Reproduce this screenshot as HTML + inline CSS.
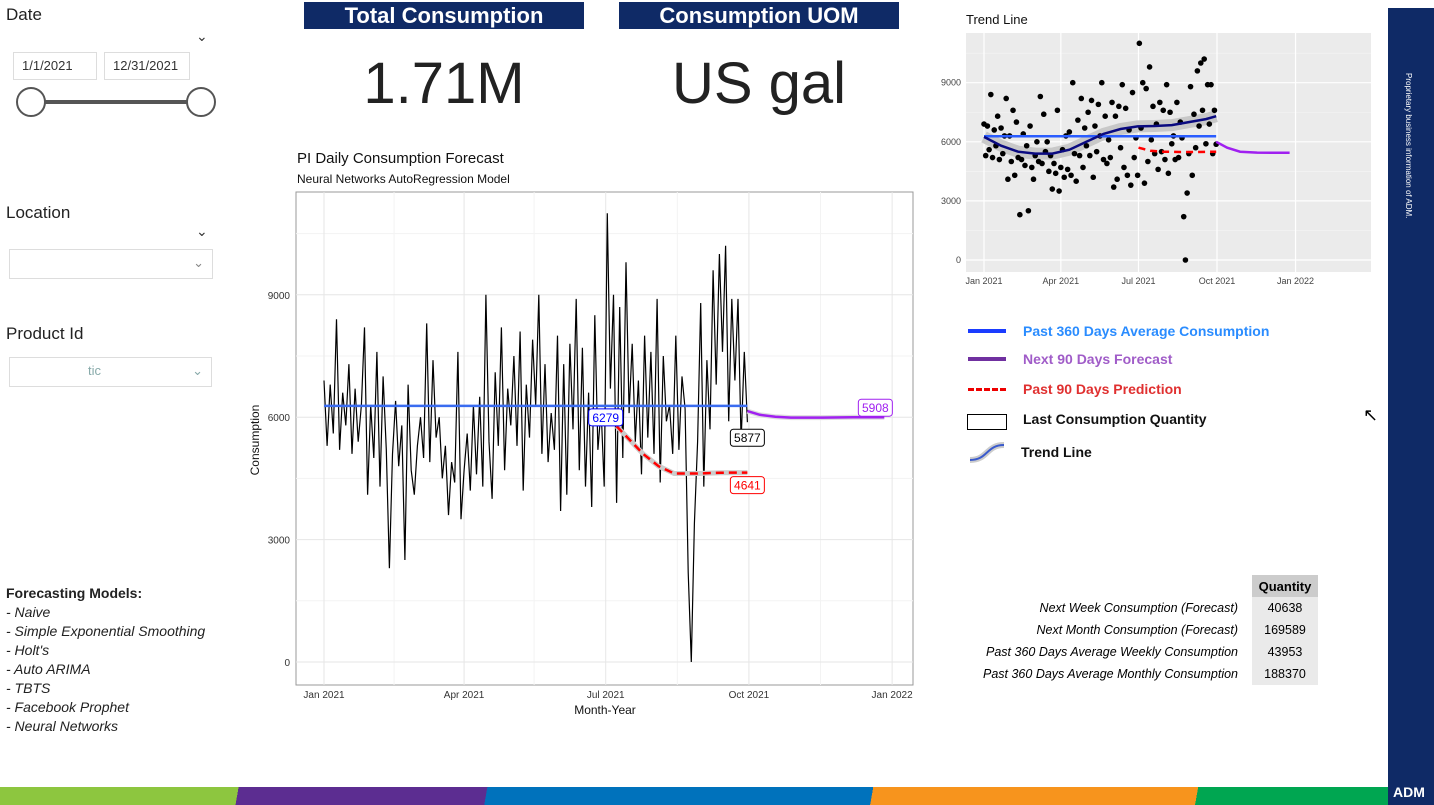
<!DOCTYPE html>
<html><head><meta charset="utf-8">
<style>
body{margin:0;width:1434px;height:805px;background:#fff;position:relative;overflow:hidden;font-family:"Liberation Sans",sans-serif;}
.abs{position:absolute;}
.hdr{background:#0f2a66;color:#fff;font-size:22px;font-weight:bold;text-align:center;height:27px;line-height:28px;}
.big{font-size:58px;color:#222;text-align:center;}
.slbl{font-size:17px;color:#222;}
.box{border:1px solid #ddd;font-size:13px;color:#333;padding:0 8px;height:26px;line-height:26px;}
.leg{font-size:14px;font-weight:bold;white-space:nowrap;}
.tr td{font-size:12.5px;font-style:italic;text-align:right;padding:0;height:22px;white-space:nowrap;}
.q{background:#eaeaea;font-style:normal!important;text-align:center!important;width:66px;}
</style></head><body>
<div class="abs slbl" style="left:6px;top:5px">Date</div>
<div class="abs" style="left:196px;top:28px;font-size:14px;color:#333">&#8964;</div>
<div class="abs box" style="left:13px;top:52px;width:66px">1/1/2021</div>
<div class="abs box" style="left:104px;top:52px;width:68px">12/31/2021</div>
<div class="abs" style="left:30px;top:100px;width:170px;height:4px;background:#555"></div>
<div class="abs" style="left:16px;top:87px;width:26px;height:26px;border:2px solid #555;border-radius:50%;background:#fff"></div>
<div class="abs" style="left:186px;top:87px;width:26px;height:26px;border:2px solid #555;border-radius:50%;background:#fff"></div>
<div class="abs slbl" style="left:6px;top:203px">Location</div>
<div class="abs" style="left:196px;top:223px;font-size:14px;color:#333">&#8964;</div>
<div class="abs box" style="left:9px;top:249px;width:186px;height:28px;color:#888"><span style="float:right">&#8964;</span></div>
<div class="abs slbl" style="left:6px;top:324px">Product Id</div>
<div class="abs box" style="left:9px;top:357px;width:185px;height:28px;color:#8aa"><span style="margin-left:70px">tic</span><span style="float:right">&#8964;</span></div>
<div class="abs" style="left:6px;top:584px;font-size:14px;line-height:19px;color:#222">
<b>Forecasting Models:</b><br><i>- Naive<br>- Simple Exponential Smoothing<br>- Holt's<br>- Auto ARIMA<br>- TBTS<br>- Facebook Prophet<br>- Neural Networks</i></div>

<div class="abs hdr" style="left:304px;top:2px;width:280px">Total Consumption</div>
<div class="abs hdr" style="left:619px;top:2px;width:280px">Consumption UOM</div>
<div class="abs big" style="left:304px;top:50px;width:280px">1.71M</div>
<div class="abs big" style="left:619px;top:50px;width:280px">US gal</div>

<svg id="main" class="abs" style="left:240px;top:140px" width="690" height="580"></svg>
<svg id="trend" class="abs" style="left:930px;top:5px" width="455" height="295"></svg>

<div class="abs" style="left:966px;top:322px;width:400px">
<div style="position:relative;height:28px"><span style="position:absolute;left:2px;top:7px;width:38px;height:4px;background:#1a3cff"></span><span class="leg" style="position:absolute;left:57px;top:1px;color:#2a8cff">Past 360 Days Average Consumption</span></div>
<div style="position:relative;height:30px"><span style="position:absolute;left:2px;top:7px;width:38px;height:4px;background:#7030a0"></span><span class="leg" style="position:absolute;left:57px;top:1px;color:#a05cc8">Next 90 Days Forecast</span></div>
<div style="position:relative;height:30px"><span style="position:absolute;left:2px;top:8px;width:38px;border-top:3px dashed #e00"></span><span class="leg" style="position:absolute;left:57px;top:1px;color:#e03030">Past 90 Days Prediction</span></div>
<div style="position:relative;height:32px"><span style="position:absolute;left:1px;top:4px;width:38px;height:14px;border:1px solid #000"></span><span class="leg" style="position:absolute;left:57px;top:1px;color:#111">Last Consumption Quantity</span></div>
<div style="position:relative;height:30px"><svg style="position:absolute;left:2px;top:0" width="40" height="22"><path d="M2,18 C20,18 18,3 36,3" stroke="#ccc" stroke-width="6" fill="none"/><path d="M2,18 C20,18 18,3 36,3" stroke="#3a5acc" stroke-width="2" fill="none"/></svg><span class="leg" style="position:absolute;left:55px;top:2px;color:#111">Trend Line</span></div>
</div>
<div class="abs" style="left:1363px;top:405px;font-size:18px">&#8598;</div>

<table class="abs tr" style="left:969px;top:575px;border-collapse:collapse">
<tr><td style="width:283px"></td><td class="q" style="background:#ccc;font-weight:bold;font-size:13px">Quantity</td></tr>
<tr><td style="padding-right:14px">Next Week Consumption (Forecast)</td><td class="q">40638</td></tr>
<tr><td style="padding-right:14px">Next Month Consumption (Forecast)</td><td class="q">169589</td></tr>
<tr><td style="padding-right:14px">Past 360 Days Average Weekly Consumption</td><td class="q">43953</td></tr>
<tr><td style="padding-right:14px">Past 360 Days Average Monthly Consumption</td><td class="q">188370</td></tr>
</table>

<div class="abs" style="left:1388px;top:8px;width:46px;height:797px;background:#0f2a66">
<div style="position:absolute;left:16px;top:65px;writing-mode:vertical-rl;color:#fff;font-size:8px">Proprietary business information of ADM.</div>
<div style="position:absolute;left:5px;bottom:5px;color:#fff;font-weight:bold;font-size:14px">ADM</div>
</div>
<div class="abs" style="left:0;top:787px;width:1388px;height:18px;background:linear-gradient(100deg,#8dc63f 0,#8dc63f 235px,#5c2d91 235px,#5c2d91 480px,#0072bc 480px,#0072bc 860px,#f7941d 860px,#f7941d 1180px,#00a651 1180px)"></div>

<script>
const NS="http://www.w3.org/2000/svg";
const consumption=[6900,5300,6800,5600,8400,5200,6600,5800,7300,5100,6700,5400,6300,8200,4100,6300,
5000,7600,4300,7000,5200,2300,5100,6400,4800,5800,2500,6800,4700,4100,5300,
6000,5000,8300,4900,7400,5500,6000,4500,5300,3600,4900,4400,7600,3500,4700,
5600,4200,6300,4600,6500,4300,9000,5400,4000,7100,5300,8200,4700,6700,5800,
7500,5300,8100,4200,6800,5500,7900,6300,9000,5100,7300,4900,6100,5200,8000,
3700,7300,4100,7800,5700,8900,4700,7700,4300,6600,3800,8500,5200,6200,4300,
11000,6700,9000,3900,8700,5000,9800,6100,7800,5400,6900,4600,8000,5500,7600,
5100,8900,4400,7500,5900,6300,5100,8000,5200,7000,6200,2200,0,3400,5400,
8800,4300,7400,5700,9600,6800,10000,7600,10200,5900,8900,6900,8900,5400,7600,5877];
const dayStep=2;
const avgValue=6279, avgEndDay=272;
const predDays=[188,195,205,215,225,240,255,272];
const predVals=[5780,5500,5100,4800,4620,4620,4640,4641];
const fcDays=[272,280,290,300,320,340,360];
const fcVals=[6150,6060,6010,5990,5990,6000,6000];
const trendDays=[0,20,40,60,80,100,120,140,160,180,200,220,240,260,272];
const trendVals=[6250,5800,5500,5400,5400,5600,6000,6400,6650,6780,6800,6850,7000,7150,7300];
const tPredDays=[181,195,210,230,250,272];
const tPredVals=[5700,5550,5500,5480,5480,5500];
const tFcDays=[272,285,300,320,340,358];
const tFcVals=[6000,5700,5500,5450,5440,5440];
const xTickLabels=["Jan 2021","Apr 2021","Jul 2021","Oct 2021","Jan 2022"];
const xTickDays=[0,90,181,273,365];
const yTicks=[0,3000,6000,9000];

function el(svg,tag,attrs,name){const e=document.createElementNS(NS,tag);for(const k in attrs)e.setAttribute(k,attrs[k]);


svg.appendChild(e);return e;}
function path(xs,ys,X,Y){return xs.map((d,i)=>(i?"L":"M")+X(d).toFixed(1)+","+Y(ys[i]).toFixed(1)).join("");}

(function(){
const s=document.getElementById('main');
const X=d=>84+d*1.5565, Y=v=>522-v*0.0408;
el(s,'text',{x:57,y:23,'font-size':15,fill:'#111'},'chart-title').textContent="PI Daily Consumption Forecast";
el(s,'text',{x:57,y:43,'font-size':12,fill:'#111'},'chart-subtitle').textContent="Neural Networks AutoRegression Model";
el(s,'rect',{x:56,y:52,width:617,height:493,fill:'#fff',stroke:'#999'},'plot-panel');
[1500,4500,7500,10500].forEach(v=>el(s,'line',{x1:56,x2:673,y1:Y(v),y2:Y(v),stroke:'#f3f3f3'},'minor-grid'));
[45,135,227,319].forEach(d=>el(s,'line',{x1:X(d),x2:X(d),y1:52,y2:545,stroke:'#f3f3f3'},'minor-grid'));
yTicks.forEach(v=>{el(s,'line',{x1:56,x2:673,y1:Y(v),y2:Y(v),stroke:'#e6e6e6'},'y-grid');
el(s,'text',{x:50,y:Y(v)+4,'font-size':10,'text-anchor':'end',fill:'#333'},'y-tick-label').textContent=v;});
xTickDays.forEach((d,i)=>{el(s,'line',{x1:X(d),x2:X(d),y1:52,y2:545,stroke:'#e6e6e6'},'x-grid');
el(s,'text',{x:X(d),y:558,'font-size':10,'text-anchor':'middle',fill:'#333'},'x-tick-label').textContent=xTickLabels[i];});
el(s,'text',{x:365,y:574,'font-size':12,'text-anchor':'middle',fill:'#111'},'x-axis-title').textContent="Month-Year";
el(s,'text',{x:19,y:300,'font-size':12,'text-anchor':'middle',fill:'#111',transform:'rotate(-90 19 300)'},'y-axis-title').textContent="Consumption";
const days=consumption.map((v,i)=>i*dayStep);
el(s,'path',{d:path(days,consumption,X,Y),stroke:'#000','stroke-width':1.2,fill:'none'},'consumption-line');
el(s,'line',{x1:X(0),x2:X(avgEndDay),y1:Y(avgValue),y2:Y(avgValue),stroke:'#3a6cf0','stroke-width':2.5},'average-line');
el(s,'path',{d:path(predDays,predVals,X,Y),stroke:'#ccc','stroke-width':5,fill:'none'},'prediction-ribbon');
el(s,'path',{d:path(predDays,predVals,X,Y),stroke:'#f00','stroke-width':2.5,'stroke-dasharray':'8,5',fill:'none'},'prediction-line');
el(s,'path',{d:path(fcDays,fcVals,X,Y),stroke:'#ddd','stroke-width':5,fill:'none'},'forecast-ribbon');
el(s,'path',{d:path(fcDays,fcVals,X,Y),stroke:'#a020f0','stroke-width':2.5,fill:'none'},'forecast-line');
function label(x,y,t,c,n){el(s,'rect',{x:x-17,y:y-9,width:34,height:17,rx:3,fill:'#fff',stroke:c},n+'-box');
el(s,'text',{x:x,y:y+4,'font-size':12,'text-anchor':'middle',fill:c},n).textContent=t;}
label(X(181),Y(avgValue)+12,avgValue,'#00f','avg-label');
label(X(272),Y(5877)+16,'5877','#000','last-label');
label(X(272),Y(4641)+13,'4641','#f00','prediction-label');
label(X(360)-9,Y(6000)-9,'5908','#a020f0','forecast-label');
})();

(function(){
const s=document.getElementById('trend');
const X=d=>54+d*0.8535, Y=v=>255-v*0.0197;
el(s,'text',{x:36,y:19,'font-size':13,fill:'#111'},'trend-title').textContent="Trend Line";
el(s,'rect',{x:36,y:28,width:405,height:239,fill:'#ebebeb'},'trend-panel');
[1500,4500,7500,10500].forEach(v=>el(s,'line',{x1:36,x2:441,y1:Y(v),y2:Y(v),stroke:'#f5f5f5','stroke-width':0.6},'minor-grid'));
yTicks.forEach(v=>{el(s,'line',{x1:36,x2:441,y1:Y(v),y2:Y(v),stroke:'#fff','stroke-width':1.2},'y-grid');
el(s,'text',{x:31,y:Y(v)+3,'font-size':9,'text-anchor':'end',fill:'#444'},'y-tick-label').textContent=v;});
xTickDays.forEach((d,i)=>{el(s,'line',{x1:X(d),x2:X(d),y1:28,y2:267,stroke:'#fff','stroke-width':1.2},'x-grid');
el(s,'text',{x:X(d),y:279,'font-size':9,'text-anchor':'middle',fill:'#444'},'x-tick-label').textContent=xTickLabels[i];});
const days=consumption.map((v,i)=>i*dayStep);
el(s,'path',{d:path(trendDays,trendVals,X,Y),stroke:'#c8c8c8','stroke-width':12,fill:'none'},'trend-ribbon');
consumption.forEach((v,i)=>el(s,'circle',{cx:X(days[i]),cy:Y(v),r:2.8,fill:'#000'},'data-point'));
el(s,'line',{x1:X(0),x2:X(avgEndDay),y1:Y(avgValue),y2:Y(avgValue),stroke:'#2a5cff','stroke-width':2.5},'average-line');
el(s,'path',{d:path(trendDays,trendVals,X,Y),stroke:'#0a0a80','stroke-width':2.5,fill:'none'},'trend-line');
el(s,'path',{d:path(tPredDays,tPredVals,X,Y),stroke:'#f00','stroke-width':2.5,'stroke-dasharray':'7,5',fill:'none'},'prediction-line');
el(s,'path',{d:path(tFcDays,tFcVals,X,Y),stroke:'#a020f0','stroke-width':2.5,fill:'none'},'forecast-line');
})();
</script>
</body></html>
